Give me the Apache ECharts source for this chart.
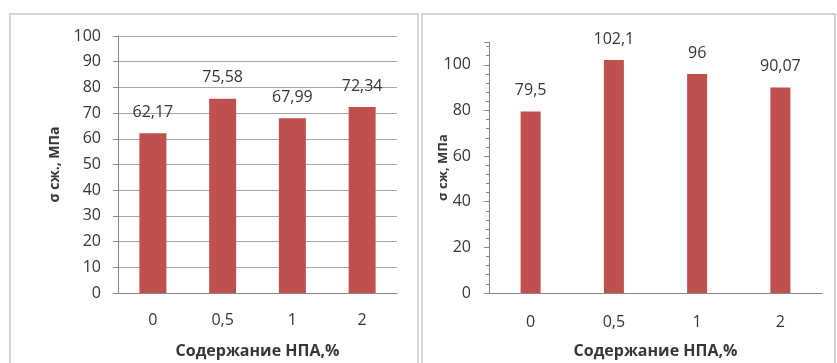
<!DOCTYPE html>
<html>
<head>
<meta charset="utf-8">
<script src="https://cdn.jsdelivr.net/npm/echarts@6/dist/echarts.min.js"></script>
<style>
  html, body { margin: 0; padding: 0; background: #ffffff; }
  #chart { width: 837px; height: 363px; }
</style>
</head>
<body>
<div id="chart"></div>
<script>
// NPA content, % (shared by both panels)
const categories = ['0', '0,5', '1', '2'];
// Compressive strength, MPa
const strengthLeft = [62.17, 75.58, 67.99, 72.34];
const strengthRight = [79.5, 102.1, 96, 90.07];

const xAxisTitle = 'Содержание НПА,%';
const yTitleLeft = 'σ сж., МПа';
const yTitleRight = 'σ сж, МПа';

const FONT = '"Open Sans", "Noto Sans", sans-serif';
const TEXT = '#363636';
const AXIS = '#868686';
const BAR = '#c0504d';

const fmt = v => String(v).replace('.', ',');

const chart = echarts.init(document.getElementById('chart'), null, { renderer: 'canvas' });

chart.setOption({
  backgroundColor: '#ffffff',
  animation: false,
  textStyle: { fontFamily: FONT },
  graphic: [
    { type: 'rect', shape: { x: 10, y: 14, width: 408, height: 360 },
      style: { fill: 'none', stroke: '#d4d4d4', lineWidth: 2 }, silent: true },
    { type: 'rect', shape: { x: 422, y: 14, width: 413, height: 360 },
      style: { fill: 'none', stroke: '#d4d4d4', lineWidth: 2 }, silent: true }
  ],
  grid: [
    { left: 118, right: 440, top: 36, bottom: 70, outerBoundsMode: 'none', containLabel: false },
    { left: 489, right: 15, top: 42, bottom: 70, outerBoundsMode: 'none', containLabel: false }
  ],
  xAxis: [
    {
      type: 'category', gridIndex: 0, data: categories,
      axisLine: { lineStyle: { color: AXIS } },
      axisTick: { show: false },
      axisLabel: { color: TEXT, fontSize: 16, margin: 19, fontFamily: FONT },
      name: xAxisTitle, nameLocation: 'middle', nameGap: 50, nameMoveOverlap: false,
      nameTextStyle: { color: TEXT, fontSize: 16, fontWeight: 'bold', fontFamily: FONT }
    },
    {
      type: 'category', gridIndex: 1, data: categories,
      axisLine: { lineStyle: { color: AXIS } },
      axisTick: { show: false },
      axisLabel: { color: TEXT, fontSize: 16, margin: 21, fontFamily: FONT },
      name: xAxisTitle, nameLocation: 'middle', nameGap: 50, nameMoveOverlap: false,
      nameTextStyle: { color: TEXT, fontSize: 16, fontWeight: 'bold', fontFamily: FONT }
    }
  ],
  yAxis: [
    {
      type: 'value', gridIndex: 0, min: 0, max: 100, interval: 10,
      axisLine: { show: true, lineStyle: { color: AXIS } },
      axisTick: { show: true, length: 5, lineStyle: { color: AXIS } },
      splitLine: { show: true, lineStyle: { color: '#a6a6a6' } },
      axisLabel: { color: TEXT, fontSize: 16, margin: 17, fontFamily: FONT },
      name: yTitleLeft, nameLocation: 'middle', nameGap: 56, nameRotate: 90, nameMoveOverlap: false,
      nameTextStyle: { color: TEXT, fontSize: 14, fontWeight: 'bold', fontFamily: FONT }
    },
    {
      type: 'value', gridIndex: 1, min: 0, max: 110, interval: 20,
      axisLine: { show: true, lineStyle: { color: AXIS } },
      axisTick: { show: true, length: 5, lineStyle: { color: AXIS } },
      minorTick: { show: true, splitNumber: 5, length: 3, lineStyle: { color: AXIS } },
      splitLine: { show: false },
      axisLabel: { color: TEXT, fontSize: 16, margin: 18, fontFamily: FONT, showMaxLabel: false },
      name: yTitleRight, nameLocation: 'middle', nameGap: 39, nameRotate: 90, nameMoveOverlap: false,
      nameTextStyle: { color: TEXT, fontSize: 13, fontWeight: 'bold', fontFamily: FONT }
    }
  ],
  series: [
    {
      type: 'bar', xAxisIndex: 0, yAxisIndex: 0, data: strengthLeft,
      barWidth: 27, itemStyle: { color: BAR },
      label: { show: true, position: 'top', distance: 13, color: TEXT, fontSize: 16,
               fontFamily: FONT, formatter: p => fmt(p.value) }
    },
    {
      type: 'bar', xAxisIndex: 1, yAxisIndex: 1, data: strengthRight,
      barWidth: 20, itemStyle: { color: BAR },
      label: { show: true, position: 'top', distance: 13, color: TEXT, fontSize: 16,
               fontFamily: FONT, formatter: p => fmt(p.value) }
    }
  ]
});
</script>
</body>
</html>
